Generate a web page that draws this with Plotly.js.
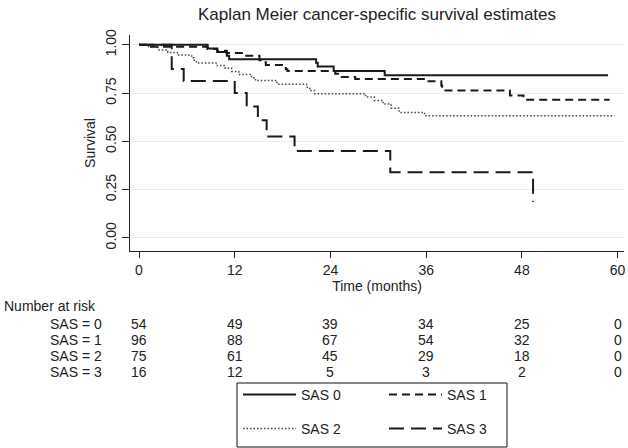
<!DOCTYPE html>
<html>
<head>
<meta charset="utf-8">
<script src="https://cdn.plot.ly/plotly-3.0.1.min.js"></script>
<style>html,body{margin:0;padding:0;background:#fff;}#chart{width:628px;height:448px;}</style>
</head>
<body>
<div id="chart"></div>
<script>
// ---- data ----
var sas0Time = [0, 8.6, 9.8, 11.0, 11.3, 22.2, 22.4, 24.4, 30.8, 58.8];
var sas0Surv = [1.0, 0.981, 0.963, 0.944, 0.926, 0.907, 0.888, 0.865, 0.843, 0.843];

var sas1Time = [0, 1.5, 8.6, 9.8, 11.0, 13.2, 15.1, 15.3, 15.9, 18.2, 18.4, 18.6, 24.6, 25.4, 27.1, 36.1, 37.9, 38.0, 38.1, 46.5, 48.2, 59.0];
var sas1Surv = [1.0, 0.990, 0.979, 0.969, 0.958, 0.944, 0.920, 0.910, 0.896, 0.885, 0.874, 0.864, 0.850, 0.833, 0.823, 0.811, 0.790, 0.777, 0.764, 0.738, 0.716, 0.716];

var sas2Time = [0, 1.2, 2.4, 3.6, 4.8, 6.6, 6.9, 7.2, 9.8, 10.8, 11.6, 12.5, 14.1, 14.6, 17.3, 21.0, 21.4, 22.0, 28.4, 29.5, 30.6, 31.6, 32.6, 35.8, 59.6];
var sas2Surv = [1.0, 0.987, 0.973, 0.960, 0.947, 0.933, 0.920, 0.906, 0.893, 0.879, 0.862, 0.846, 0.830, 0.815, 0.796, 0.780, 0.763, 0.747, 0.730, 0.712, 0.693, 0.672, 0.650, 0.633, 0.633];

var sas3Time = [0, 4.1, 5.6, 12.0, 13.5, 14.9, 16.0, 19.5, 31.5, 49.4];
var sas3Surv = [1.0, 0.875, 0.8125, 0.75, 0.68, 0.61, 0.525, 0.45, 0.34, 0.187];

var groupNames = ["SAS 0", "SAS 1", "SAS 2", "SAS 3"];
var riskLabels = ["SAS = 0", "SAS = 1", "SAS = 2", "SAS = 3"];
var riskTimes = [0, 12, 24, 36, 48, 60];
var risk0 = [54, 49, 39, 34, 25, 0];
var risk1 = [96, 88, 67, 54, 32, 0];
var risk2 = [75, 61, 45, 29, 18, 0];
var risk3 = [16, 12, 5, 3, 2, 0];
var xTicks = [0, 12, 24, 36, 48, 60];
var yTicks = [0, 0.25, 0.5, 0.75, 1];
var yTickText = ["0.00", "0.25", "0.50", "0.75", "1.00"];

// ---- layout helpers ----
var W = 628, H = 448;
var M = {l: 130, r: 4, t: 35, b: 197};
var plotW = W - M.l - M.r, plotH = H - M.t - M.b;
function px2paperX(px) { return (px - M.l) / plotW; }
function py2paperY(py) { return (H - M.b - py) / plotH; }

var FONT = "Liberation Sans, Arial, Helvetica, sans-serif";
var INK = "#1a1a1a";
var TXT = "#222";

var traces = [
  {x: sas0Time, y: sas0Surv, name: groupNames[0], legend: "legend",
   line: {shape: "hv", color: INK, width: 2}},
  {x: sas1Time, y: sas1Surv, name: groupNames[1], legend: "legend",
   line: {shape: "hv", color: INK, width: 2, dash: "8px,5px"}},
  {x: sas2Time, y: sas2Surv, name: groupNames[2], legend: "legend2",
   line: {shape: "hv", color: "#444", width: 1.5, dash: "1.5px,2px"}},
  {x: sas3Time, y: sas3Surv, name: groupNames[3], legend: "legend2",
   line: {shape: "hv", color: INK, width: 2, dash: "15px,7px"}}
].map(function (t) {
  t.type = "scatter"; t.mode = "lines"; t.hoverinfo = "skip"; return t;
});

var annotations = [];
annotations.push({text: "Number at risk", xref: "paper", yref: "paper",
  x: px2paperX(2), y: py2paperY(306), xanchor: "left", yanchor: "middle",
  showarrow: false, font: {family: FONT, size: 14, color: TXT}});
var riskRows = [risk0, risk1, risk2, risk3];
var rowY = [324, 340, 356, 372];
riskRows.forEach(function (row, r) {
  annotations.push({text: riskLabels[r], xref: "paper", yref: "paper",
    x: px2paperX(104), y: py2paperY(rowY[r]), xanchor: "right", yanchor: "middle",
    showarrow: false, font: {family: FONT, size: 14, color: TXT}});
  row.forEach(function (v, i) {
    annotations.push({text: String(v), xref: "x", yref: "paper",
      x: riskTimes[i], y: py2paperY(rowY[r]), xanchor: "center", yanchor: "middle",
      showarrow: false, font: {family: FONT, size: 14, color: TXT}});
  });
});

var legendCommon = {
  orientation: "h", xanchor: "left", yanchor: "top",
  itemwidth: 53, entrywidth: 78, entrywidthmode: "pixels",
  font: {family: FONT, size: 14, color: TXT},
  bgcolor: "rgba(0,0,0,0)", borderwidth: 0, traceorder: "normal"
};

var layout = {
  width: W, height: H,
  margin: {l: M.l, r: M.r, t: M.t, b: M.b, pad: 0, autoexpand: false},
  paper_bgcolor: "#fff", plot_bgcolor: "#fff",
  font: {family: FONT, size: 14, color: TXT},
  title: {text: "Kaplan Meier cancer-specific survival estimates",
    font: {family: FONT, size: 17, color: TXT},
    xref: "paper", x: 0.5, xanchor: "center",
    yref: "container", y: 1 - 14 / H, yanchor: "middle"},
  xaxis: {range: [-1.13, 60.8], tickvals: xTicks, ticks: "outside", ticklen: 6,
    tickcolor: "#222", tickwidth: 1, showline: true, linecolor: "#222", linewidth: 1,
    showgrid: false, zeroline: false, fixedrange: true,
    tickfont: {family: FONT, size: 14, color: TXT},
    title: {text: "Time (months)", font: {family: FONT, size: 14, color: TXT}, standoff: 0}},
  yaxis: {range: [-0.068, 1.051], tickvals: yTicks, ticktext: yTickText, tickangle: -90,
    ticks: "outside", ticklen: 7, tickcolor: "#222", tickwidth: 1,
    showline: true, linecolor: "#222", linewidth: 1,
    showgrid: true, gridcolor: "#ebebeb", gridwidth: 1, zeroline: false, fixedrange: true,
    tickfont: {family: FONT, size: 14, color: TXT},
    title: {text: "Survival", font: {family: FONT, size: 14, color: TXT}, standoff: 4}},
  showlegend: true,
  legend: Object.assign({}, legendCommon, {x: px2paperX(238), y: py2paperY(379)}),
  legend2: Object.assign({}, legendCommon, {x: px2paperX(238), y: py2paperY(413)}),
  shapes: [{type: "rect", xref: "paper", yref: "paper",
    x0: px2paperX(237), x1: px2paperX(507), y0: py2paperY(383), y1: py2paperY(447),
    line: {color: "#111", width: 1}, fillcolor: "rgba(0,0,0,0)"}],
  annotations: annotations
};

Plotly.newPlot("chart", traces, layout, {staticPlot: true, displayModeBar: false});
</script>
</body>
</html>
